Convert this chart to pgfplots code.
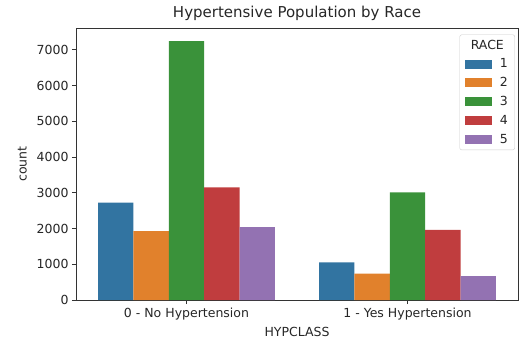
\documentclass[border=0pt]{standalone}
\usepackage{pgfplots}
\pgfplotsset{compat=1.18}
\usepackage{fontspec}
\setmainfont{DejaVu Sans}
\definecolor{c1}{HTML}{3274A1}
\definecolor{c2}{HTML}{E1812C}
\definecolor{c3}{HTML}{3A923A}
\definecolor{c4}{HTML}{C03D3E}
\definecolor{c5}{HTML}{9372B2}
\definecolor{spine}{HTML}{333333}
\definecolor{txt}{HTML}{262626}
\begin{document}
\begin{tikzpicture}
\begin{axis}[
  at={(0pt,0pt)}, anchor=south west,
  scale only axis, width=442pt, height=272pt,
  xmin=-0.5, xmax=1.5, ymin=0, ymax=7610,
  xtick={0,1}, xticklabels={0 - No Hypertension, 1 - Yes Hypertension},
  ytick={0,1000,...,7000},
  scaled y ticks=false,
  /pgf/number format/assume math mode=true,
  /pgf/number format/1000 sep={},
  tick label style={font=\fontsize{12.5}{14}\selectfont, text=txt},
  label style={font=\fontsize{12.5}{14}\selectfont, text=txt},
  xlabel={HYPCLASS}, ylabel={count},
  title={Hypertensive Population by Race},
  title style={font=\fontsize{15}{17}\selectfont, text=txt, yshift=-2pt},
  axis line style={spine, line width=0.9pt},
  tick style={spine, line width=0.9pt},
  tick align=outside, major tick length=4pt,
  xtick pos=bottom, ytick pos=left,
  xlabel style={yshift=-1pt},
  ylabel style={yshift=3pt},
  legend image code/.code={\fill[#1, sharp corners] (0pt,-4.5pt) rectangle (27pt,4.5pt);},
  legend style={at={(0.993,0.976)}, anchor=north east,
    draw=black!20, rounded corners=2pt, fill=white,
    font=\fontsize{12.5}{14}\selectfont, text=txt,
    row sep=4.2pt, inner xsep=5pt, inner ysep=3pt},
  legend cell align=left,
]
\addlegendimage{empty legend}
\addlegendentry{\makebox[0pt][l]{\hspace*{-23pt}RACE}}
\addplot[ybar, bar width=0.16, bar shift=-0.32, fill=c1, draw=none] coordinates {(0,2725) (1,1055)};
\addlegendentry{\hspace*{6pt}1}
\addplot[ybar, bar width=0.16, bar shift=-0.16, fill=c2, draw=none] coordinates {(0,1925) (1,735)};
\addlegendentry{\hspace*{6pt}2}
\addplot[ybar, bar width=0.16, bar shift=0, fill=c3, draw=none] coordinates {(0,7245) (1,3010)};
\addlegendentry{\hspace*{6pt}3}
\addplot[ybar, bar width=0.16, bar shift=0.16, fill=c4, draw=none] coordinates {(0,3150) (1,1965)};
\addlegendentry{\hspace*{6pt}4}
\addplot[ybar, bar width=0.16, bar shift=0.32, fill=c5, draw=none] coordinates {(0,2040) (1,670)};
\addlegendentry{\hspace*{6pt}5}
\end{axis}
\pgfresetboundingbox
\path (-76pt,-41pt) rectangle (446pt,300pt);
\end{tikzpicture}
\end{document}
